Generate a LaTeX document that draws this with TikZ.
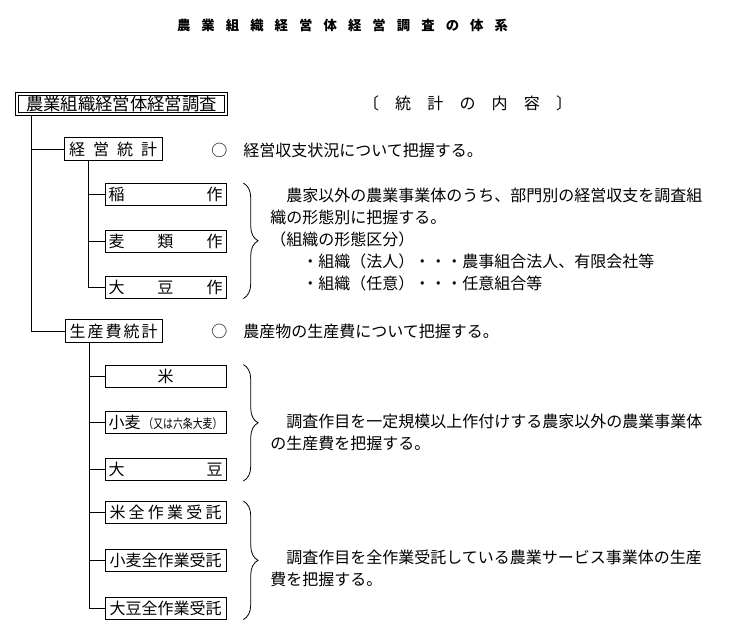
\documentclass[tikz,border=0pt]{standalone}
\usepackage{fontspec}
\usepackage{graphicx}
\setmainfont{Noto Sans CJK JP}
\usetikzlibrary{positioning, decorations.pathreplacing}
\newdimen\upx \upx=0.75pt
\newcommand{\spreadtext}[2]{\makebox[#1][s]{#2}}

\begin{document}
\begin{tikzpicture}[x=0.75pt, y=-0.75pt,
    box/.style={draw, line width=0.6pt, inner sep=0pt, minimum height=22\upx,
                font=\fontsize{12}{14}\selectfont},
    leaf/.style={box, minimum width=121\upx},
    branch/.style={box, minimum width=98\upx, minimum height=23.5\upx},
    link/.style={line width=0.6pt},
    curly/.style={decorate, decoration={brace, amplitude=11pt}, line width=0.6pt},
    note/.style={align=left, inner sep=0pt, font=\fontsize{12}{16.5}\selectfont},
  ]
    \useasboundingbox (0,0) rectangle (741,640);

    \node[inner sep=0pt, font=\bfseries\fontsize{10}{12}\selectfont] (title) at (342.5,25)
      {\spreadtext{331\upx}{農\hfill 業\hfill 組\hfill 織\hfill 経\hfill 営\hfill 体\hfill 経\hfill 営\hfill 調\hfill 査\hfill の\hfill 体\hfill 系}};
    \node[inner sep=0pt, font=\fontsize{12}{14}\selectfont] (naiyo) at (467.5,103)
      {\spreadtext{209\upx}{〔\hfill 統\hfill 計\hfill の\hfill 内\hfill 容\hfill 〕}};

    \node[draw, double, double distance=1.8pt, line width=0.55pt, inner sep=0pt,
          minimum width=209\upx, minimum height=20\upx,
          font=\fontsize{13}{15}\selectfont] (root) at (121.5,104) {農業組織経営体経営調査};

    % 経営統計
    \node[branch] (keiei) at (113,149) {\spreadtext{88\upx}{経\hfill 営\hfill 統\hfill 計}};
    \node[leaf] (ine) at (165.5,194.5) {\spreadtext{114\upx}{稲\hfill 作}};
    \node[leaf, below=24\upx of ine] (mugi) {\spreadtext{114\upx}{麦\hfill 類\hfill 作}};
    \node[leaf, below=23\upx of mugi] (daizu) {\spreadtext{114\upx}{大\hfill 豆\hfill 作}};

    % 生産費統計
    \node[branch, minimum width=97\upx] (seisan) at (113.5,331)
      {\spreadtext{88\upx}{生\hfill 産\hfill 費\hfill 統\hfill 計}};
    \node[leaf] (kome) at (165.5,376) {米};
    \node[leaf, below=24\upx of kome] (komugi)
      {\spreadtext{114\upx}{小麦\hfill \scalebox{0.78}[1]{\fontsize{9.5}{11}\selectfont （又は六条大麦）}}};
    \node[leaf, below=24\upx of komugi] (daizu2) {\spreadtext{114\upx}{大\hfill 豆}};
    \node[leaf] (zkome) at (165.5,512.5)
      {\spreadtext{112\upx}{米\hfill 全\hfill 作\hfill 業\hfill 受\hfill 託}};
    \node[leaf, below=25\upx of zkome] (zkomugi) {小麦全作業受託};
    \node[leaf, below=25\upx of zkomugi] (zdaizu) {大豆全作業受託};

    % tree lines
    \coordinate (t0) at ([xshift=15\upx, yshift=-1.9\upx]root.south west);
    \draw[link] (t0) |- (keiei.west);
    \draw[link] (t0) |- (seisan.west);
    \coordinate (t1) at ([xshift=25\upx]keiei.south west);
    \foreach \n in {ine, mugi, daizu}
      \draw[link] (t1) |- (\n.west);
    \coordinate (t2) at ([xshift=25\upx]seisan.south west);
    \foreach \n in {kome, komugi, daizu2, zkome, zkomugi, zdaizu}
      \draw[link] (t2) |- (\n.west);

    % braces
    \draw[curly] ([xshift=17\upx]ine.north east) -- ([xshift=17\upx]daizu.south east);
    \draw[curly] ([xshift=17\upx]kome.north east) -- ([xshift=17\upx]daizu2.south east);
    \draw[curly] ([xshift=17\upx]zkome.north east) -- ([xshift=17\upx]zdaizu.south east);

    % 統計の内容
    \node[note, anchor=west] (gaiyo1) at (211,150) {○　経営収支状況について把握する。};
    \node[note, anchor=west] (gaiyo2) at (211,331) {○　農産物の生産費について把握する。};
    \node[note, anchor=west] (setsumei1) at (270,240)
      {　農家以外の農業事業体のうち、部門別の経営収支を調査組\\
       織の形態別に把握する。\\
       （組織の形態区分）\\
       　　・組織（法人）・・・農事組合法人、有限会社等\\
       　　・組織（任意）・・・任意組合等};
    \node[note, anchor=west] (setsumei2) at (270,432.5)
      {　調査作目を一定規模以上作付けする農家以外の農業事業体\\
       の生産費を把握する。};
    \node[note, anchor=west] (setsumei3) at (270,568.5)
      {　調査作目を全作業受託している農業サービス事業体の生産\\
       費を把握する。};
\end{tikzpicture}
\end{document}
